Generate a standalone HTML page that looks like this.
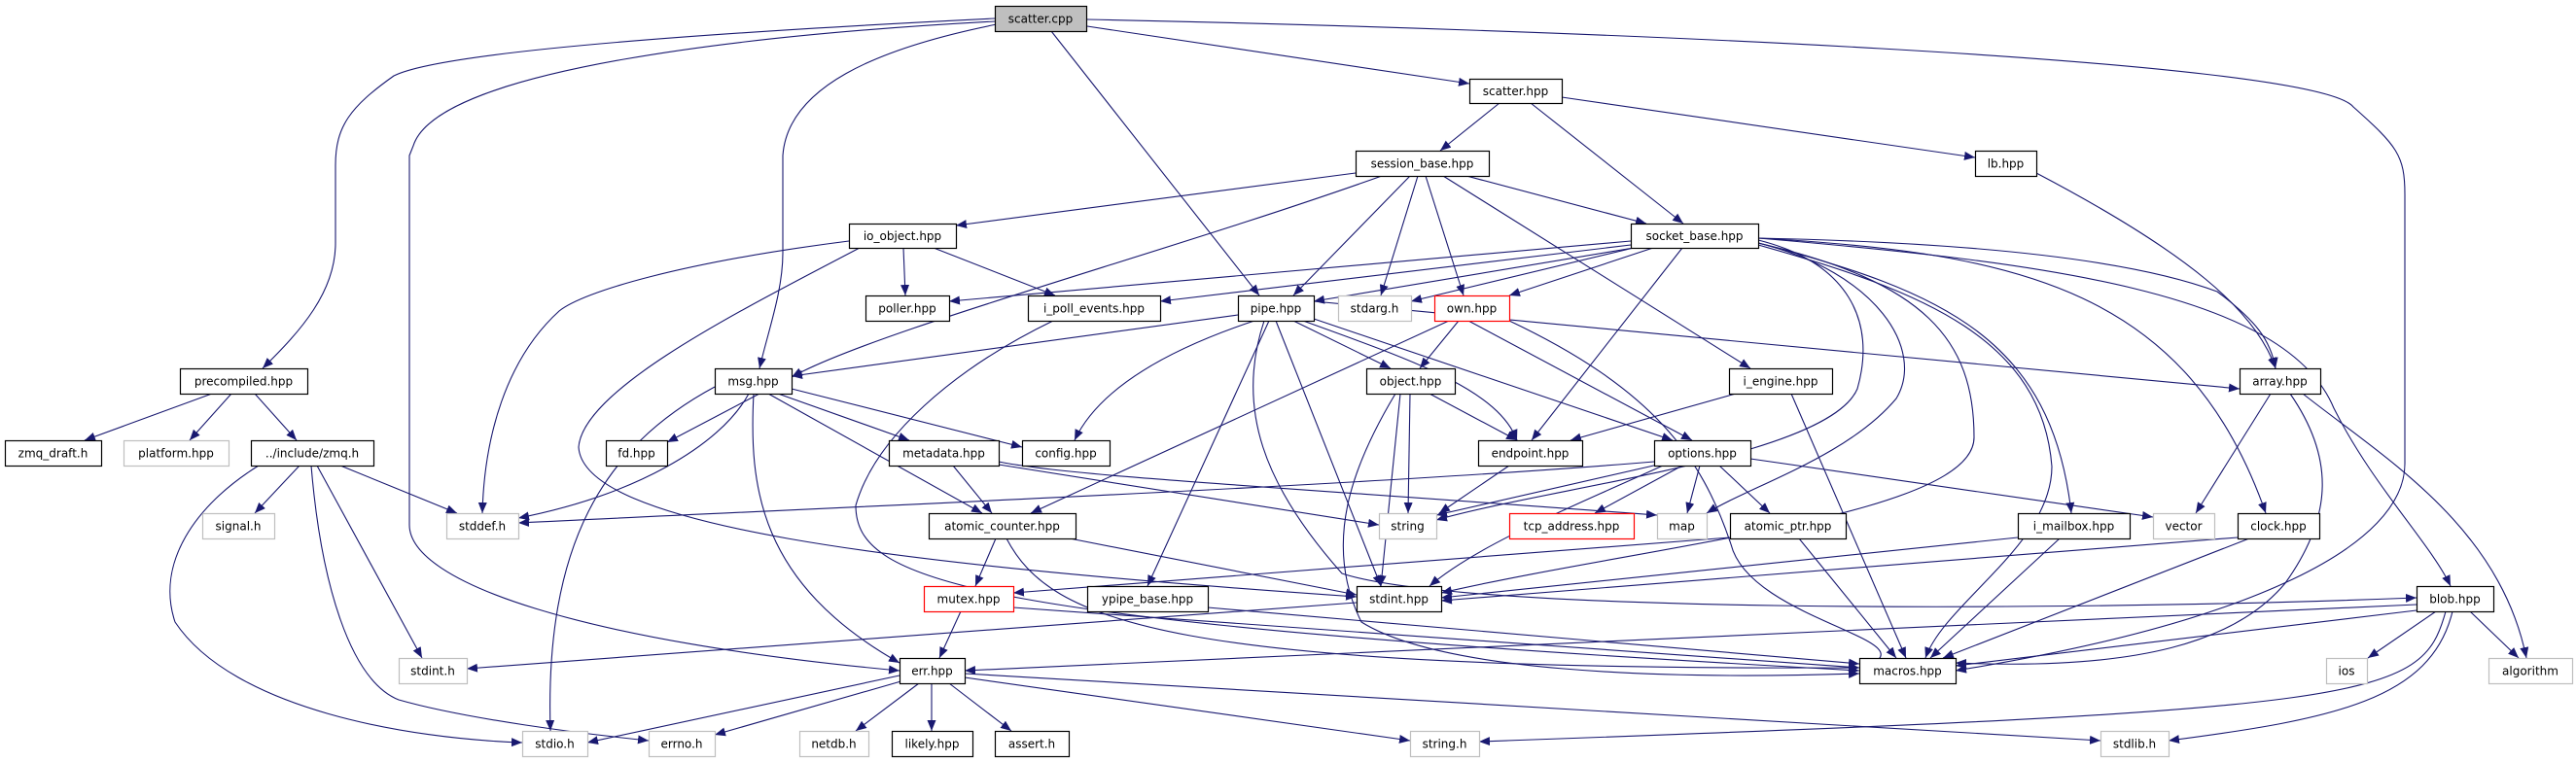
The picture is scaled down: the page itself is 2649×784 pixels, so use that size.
<!DOCTYPE html>
<html><head><meta charset="utf-8">
<style>
html,body{margin:0;padding:0;background:#fff;}
svg{display:block;}
text{font-family:"DejaVu Sans","Liberation Sans",sans-serif;font-size:12px;fill:#000;}
</style></head>
<body>
<svg id="g" width="2649" height="784" viewBox="0 0 2649 784" xmlns="http://www.w3.org/2000/svg">
<defs>
<marker id="a" markerUnits="userSpaceOnUse" markerWidth="12" markerHeight="10" refX="11" refY="4.5" orient="auto">
<path d="M0,0 L11,4.5 L0,9 z" fill="#191970"/>
</marker>
</defs>
<g id="edges" fill="none" stroke="#191970" stroke-width="1.1"></g>
<g id="nodes"></g>
</svg>
<script>
var N={
'scatter.cpp':[1023,6,1117,32,'s'],
'scatter.hpp':[1511,81,1606,106,'b'],
'session_base.hpp':[1394,155,1531,181,'b'],
'lb.hpp':[2031,155,2094,181,'b'],
'io_object.hpp':[873,230,983,255,'b'],
'socket_base.hpp':[1677,230,1808,255,'b'],
'poller.hpp':[890,304,976,330,'b'],
'i_poll_events.hpp':[1057,304,1193,330,'b'],
'pipe.hpp':[1273,304,1351,330,'b'],
'stdarg.h':[1376,304,1451,330,'g'],
'own.hpp':[1475,304,1552,330,'r'],
'precompiled.hpp':[185,379,316,405,'b'],
'msg.hpp':[735,379,814,405,'b'],
'object.hpp':[1405,379,1496,405,'b'],
'i_engine.hpp':[1778,379,1884,405,'b'],
'array.hpp':[2303,379,2386,405,'b'],
'zmq_draft.h':[5,453,104,479,'b'],
'platform.hpp':[127,453,235,479,'g'],
'../include/zmq.h':[258,453,384,479,'b'],
'fd.hpp':[623,453,686,479,'b'],
'metadata.hpp':[914,453,1027,479,'b'],
'config.hpp':[1051,453,1141,479,'b'],
'endpoint.hpp':[1520,453,1627,479,'b'],
'options.hpp':[1701,453,1800,479,'b'],
'signal.h':[208,528,282,554,'g'],
'stddef.h':[459,528,533,554,'g'],
'atomic_counter.hpp':[955,528,1106,554,'b'],
'string':[1418,528,1477,554,'g'],
'tcp_address.hpp':[1552,528,1680,554,'r'],
'map':[1704,528,1755,554,'g'],
'atomic_ptr.hpp':[1779,528,1898,554,'b'],
'i_mailbox.hpp':[2075,528,2190,554,'b'],
'vector':[2214,528,2277,554,'g'],
'clock.hpp':[2301,528,2385,554,'b'],
'mutex.hpp':[950,603,1042,629,'r'],
'ypipe_base.hpp':[1118,603,1242,629,'b'],
'stdint.hpp':[1395,603,1482,629,'b'],
'blob.hpp':[2485,603,2564,629,'b'],
'stdint.h':[410,677,480,703,'g'],
'err.hpp':[925,677,992,703,'b'],
'macros.hpp':[1912,677,2011,703,'b'],
'ios':[2392,677,2434,703,'g'],
'algorithm':[2559,677,2645,703,'g'],
'stdio.h':[537,752,604,778,'g'],
'errno.h':[667,752,735,778,'g'],
'netdb.h':[822,752,893,778,'g'],
'likely.hpp':[917,752,1000,778,'b'],
'assert.h':[1023,752,1099,778,'b'],
'string.h':[1450,752,1521,778,'g'],
'stdlib.h':[2160,752,2230,778,'g']
};
var E=[
'M1023,19 C800,30 460,50 405,78 C360,110 345,130 345,170 L345,250 C345,300 310,340 270,379',
'M1023,22 C780,35 450,70 425,150 L421,160 L421,540 C421,600 600,660 925,690',
'M1025,25 C900,50 810,90 805,160 L805,260 C805,300 790,340 781,379',
'M1081,32 L1295,304',
'M1118,27 L1511,86',
'M1118,20 C1600,30 2380,60 2420,110 C2465,150 2473,160 2473,200 L2473,477 C2473,560 2320,640 2011,690',
'M1542,106 L1481,155','M1574,106 L1731,230','M1606,100 L2031,162',
'M1394,178 L983,232',
'M1421,181 C1200,260 900,340 814,388',
'M1450,181 L1330,304','M1458,181 L1420,304','M1466,181 L1505,304',
'M1484,181 L1800,379','M1508,181 L1693,230',
'M929,255 L931,304','M960,255 L1085,304',
'M873,248 C700,270 600,300 575,320 C520,370 498,450 496,528',
'M884,255 C760,320 600,400 595,460 C600,540 900,580 1395,614',
'M1083,330 C980,380 900,450 880,520 C880,600 1000,640 1912,690',
'M1677,248 L976,310','M1677,252 L1193,310','M1680,255 L1351,310','M1680,255 L1451,310',
'M1700,255 L1552,304','M1730,255 L1575,453',
'M1808,245 C2050,250 2200,270 2280,300 C2320,330 2335,350 2340,379',
'M1808,247 C1900,270 1930,330 1910,400 C1880,470 1600,500 1477,535',
'M1808,250 C1930,280 1980,360 1950,410 C1900,470 1800,500 1755,528',
'M1808,250 C1980,290 2030,350 2030,450 C2030,530 1700,560 1482,610',
'M1808,252 C1980,300 2100,350 2110,480 C2110,560 2000,620 1980,677',
'M1808,250 C2000,300 2110,350 2130,528',
'M1808,245 C2080,260 2250,300 2330,528',
'M1808,245 C2100,270 2350,300 2400,420 C2440,500 2500,560 2520,603',
'M1273,324 L814,387',
'M1351,310 L2303,400',
'M1330,330 L1430,379',
'M1340,330 C1450,370 1540,400 1560,453',
'M1351,328 L1720,453',
'M1290,330 C1200,360 1130,400 1105,453',
'M1305,330 L1180,603',
'M1312,330 L1420,603',
'M1300,330 C1270,420 1300,500 1380,590 C1500,630 2100,630 2485,615',
'M1500,330 L1460,379','M1490,330 L1060,528','M1510,330 L1740,453',
'M1552,330 C1700,400 1750,470 1780,560 C1800,640 2000,660 1912,688',
'M1470,405 L1560,453','M1450,405 L1448,528','M1440,405 L1420,603',
'M1435,405 C1390,480 1360,560 1400,640 C1480,690 1700,700 1912,693',
'M1785,405 L1615,453','M1842,405 L1960,677',
'M781,405 L686,455','M770,405 C740,460 650,510 533,533','M814,400 L1051,460',
'M800,405 L935,453','M790,405 L1010,528',
'M735,398 C620,460 560,560 566,752','M775,405 C770,500 780,600 925,682',
'M218,405 L87,453','M238,405 L195,453','M262,405 L305,453',
'M308,479 L262,528','M350,479 L470,528','M326,479 L434,677',
'M266,479 C200,520 160,580 180,640 C240,730 420,760 537,764',
'M320,479 C330,600 360,700 410,720 C480,740 600,755 667,762',
'M980,479 L1020,528','M1027,478 L1418,540',
'M1027,475 C1100,490 1300,500 1704,530',
'M1701,475 C1400,500 900,520 533,538',
'M1705,478 L1477,530','M1730,479 L1640,528','M1748,479 L1735,528','M1768,479 L1820,528',
'M1800,472 L2214,532','M1710,479 C1620,520 1520,560 1470,603',
'M1552,479 L1480,528',
'M1024,554 L1003,603','M1100,554 L1395,612',
'M1035,554 C1080,640 1200,690 1912,687',
'M1779,553 L1042,610','M1850,554 L1950,677',
'M2075,553 L1482,615','M2118,554 L1985,677',
'M2301,553 L1482,618','M2313,554 L1998,677',
'M988,629 L966,677','M1042,625 L1912,687','M1242,625 L1912,683',
'M1395,620 L480,688',
'M2485,622 L992,690','M2485,628 L2011,685','M2505,629 L2435,677','M2540,629 L2590,677',
'M2515,629 C2490,720 2450,730 1521,763',
'M2522,629 C2500,720 2400,740 2230,762',
'M2335,405 L2258,528',
'M2355,405 C2400,470 2400,530 2350,600 C2300,660 2200,690 2011,682',
'M2368,405 C2450,470 2570,540 2598,677',
'M2094,178 C2250,260 2320,320 2340,379',
'M925,695 L604,764','M930,700 L735,756','M945,703 L880,752','M958,703 L958,752',
'M976,703 L1040,752','M992,697 L1450,762','M992,693 L2160,762'
];
var ns='http://www.w3.org/2000/svg';
var eg=document.getElementById('edges');
E.forEach(function(d){var p=document.createElementNS(ns,'path');p.setAttribute('d',d);p.setAttribute('marker-end','url(#a)');eg.appendChild(p);});
var ng=document.getElementById('nodes');
for(var k in N){var n=N[k];
var r=document.createElementNS(ns,'rect');
r.setAttribute('x',n[0]+0.5);r.setAttribute('y',n[1]+0.5);r.setAttribute('width',n[2]-n[0]);r.setAttribute('height',n[3]-n[1]);
r.setAttribute('fill',n[4]=='s'?'#bfbfbf':'#fff');
r.setAttribute('stroke',n[4]=='g'?'#bfbfbf':(n[4]=='r'?'#ff0000':'#000'));
r.setAttribute('stroke-width','1.2');ng.appendChild(r);
var t=document.createElementNS(ns,'text');
t.setAttribute('x',(n[0]+n[2])/2);t.setAttribute('y',(n[1]+n[3])/2+4.5);t.setAttribute('text-anchor','middle');
t.textContent=k;ng.appendChild(t);}
</script>
</body></html>
